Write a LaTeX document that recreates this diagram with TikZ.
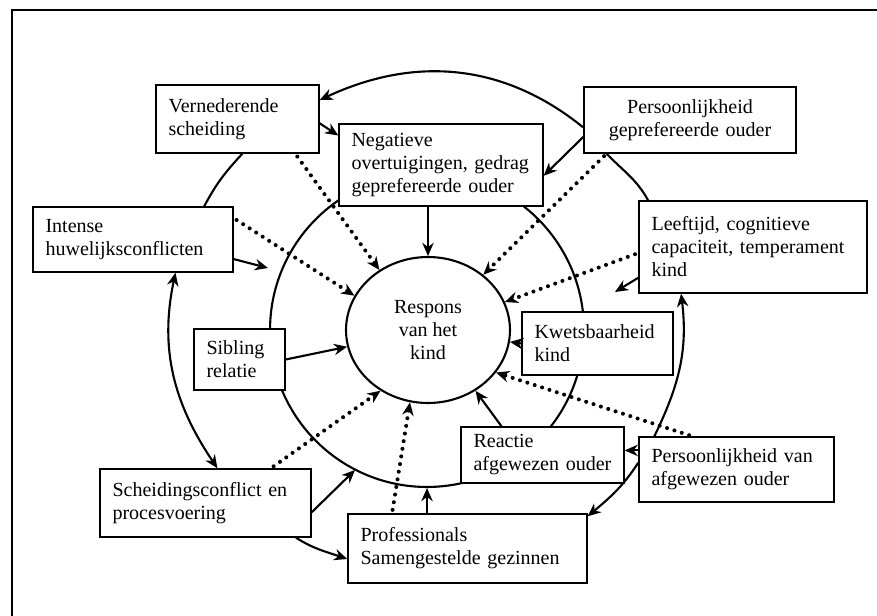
\documentclass[tikz,border=0pt]{standalone}
\usepackage{fontspec}
\setmainfont{Liberation Serif}
\usetikzlibrary{arrows.meta,shapes}
\newcommand{\boxfont}{\fontsize{11.4}{13.1}\selectfont}
\tikzstyle{factor} = [rectangle, draw, fill=white, line width=0.8pt,
    inner xsep=0.25cm, inner ysep=0pt, align=left, font=\boxfont]
\tikzstyle{arrowline} = [->, line width=1.2pt]
\tikzstyle{plainline} = [line width=1.2pt]
\tikzstyle{dotline} = [->, line width=2.3pt, dash pattern=on 0pt off 4.4pt,
    line cap=round, shorten <=2pt]

\begin{document}
\begin{tikzpicture}[x=0.02cm,y=0.02cm,>={Stealth[length=7.5pt,width=6.5pt]}]
  \useasboundingbox (0,0) rectangle (877,-616);
  \draw[line width=1.2pt] (12,-616) |- (877,-10);

  % middle ring, behind the boxes
  \node[circle, draw, line width=1.2pt, minimum size=6.28cm, inner sep=0pt] (ring) at (427,-330) {};

  \node[factor, text width=2.76cm, minimum height=1.36cm] (ver) at (237.5,-119) {Vernederende\\scheiding};
  \node[factor, text width=3.58cm, minimum height=1.64cm] (neg) at (441,-165) {Negatieve\\overtuigingen,~gedrag\\geprefereerde~ouder};
  \node[factor, text width=3.74cm, minimum height=1.32cm, align=center] (pgp) at (690,-120) {Persoonlijkheid\\geprefereerde~ouder};
  \node[factor, text width=3.50cm, minimum height=1.30cm] (int) at (133,-239.5) {Intense\\huwelijksconflicten};
  \node[factor, text width=4.06cm, minimum height=1.84cm] (lee) at (753,-247) {Leeftijd,~cognitieve\\capaciteit,~temperament\\kind};
  \node[factor, text width=1.32cm, minimum height=1.22cm] (sib) at (239.5,-359.5) {Sibling\\relatie};
  \node[factor, text width=2.52cm, minimum height=1.26cm] (kwe) at (597.5,-343.5) {Kwetsbaarheid\\kind};
  \node[factor, text width=2.76cm, minimum height=1.12cm] (rea) at (542.5,-455) {Reactie\\afgewezen~ouder};
  \node[factor, text width=3.40cm, minimum height=1.30cm] (pva) at (736.5,-469.5) {Persoonlijkheid~van\\afgewezen~ouder};
  \node[factor, text width=3.72cm, minimum height=1.36cm] (sch) at (205.5,-503) {Scheidingsconflict~en\\procesvoering};
  \node[factor, text width=4.28cm, minimum height=1.38cm] (pro) at (467.5,-548.5) {Professionals\\Samengestelde~gezinnen};
  \node[ellipse, draw, fill=white, line width=1.2pt, minimum width=3.28cm, minimum height=2.92cm,
        inner sep=0pt, align=center, font=\boxfont] (resp) at (428,-330) {Respons\\van het\\kind};

  \coordinate (intend) at (268,-268);
  \coordinate (leeend) at (615,-292);
  \coordinate (schend) at (355,-470);

  % outer ring
  \draw[arrowline] (pgp.184) to[out=141,in=25] (ver.13);
  \draw[plainline] (ver.-82) to[out=227,in=62] (int.25);
  \draw[arrowline,<->] (int.-38) to[out=258,in=124] (sch.71);
  \draw[arrowline] (sch.-21.5) to[out=-32,in=161] (pro.185);
  \draw[arrowline] (pva.176) to[out=-123,in=40] (pro.15);
  \draw[arrowline] (pva.158) to[out=64,in=-83] (lee.213);
  \draw[plainline] (pgp.202) to[out=-46,in=119] (lee.156);

  % direct influences
  \draw[arrowline] (ver.-3) -- (neg.164);
  \draw[arrowline] (pgp.189) -- (neg.-6);
  \draw[arrowline] (neg.south -| resp.north) -- (resp.north);
  \draw[arrowline] (int.-11) -- (intend);
  \draw[arrowline] (sib.east) -- (resp);
  \draw[arrowline] (kwe.west) -- (resp);
  \draw[arrowline] (rea.145) -- (resp.-52);
  \draw[arrowline] (pva.169) -- (pva.169 -| rea.east);
  \draw[arrowline] (lee.195) -- (leeend);
  \draw[arrowline] (sch.-5) -- (schend);
  \draw[arrowline] (pro.north -| ring.south) -- (ring.south);

  % indirect influences
  \draw[dotline] (ver.-31) -- (resp.129);
  \draw[dotline] (int.12) -- (resp.155);
  \draw[dotline] (pgp.202) -- (resp.45);
  \draw[dotline] (lee.183) -- (resp.20);
  \draw[dotline] (pva.143) -- (resp.-32);
  \draw[dotline] (sch.28) -- (resp.232);
  \draw[dotline] (pro.155) -- (resp.256);
\end{tikzpicture}
\end{document}
